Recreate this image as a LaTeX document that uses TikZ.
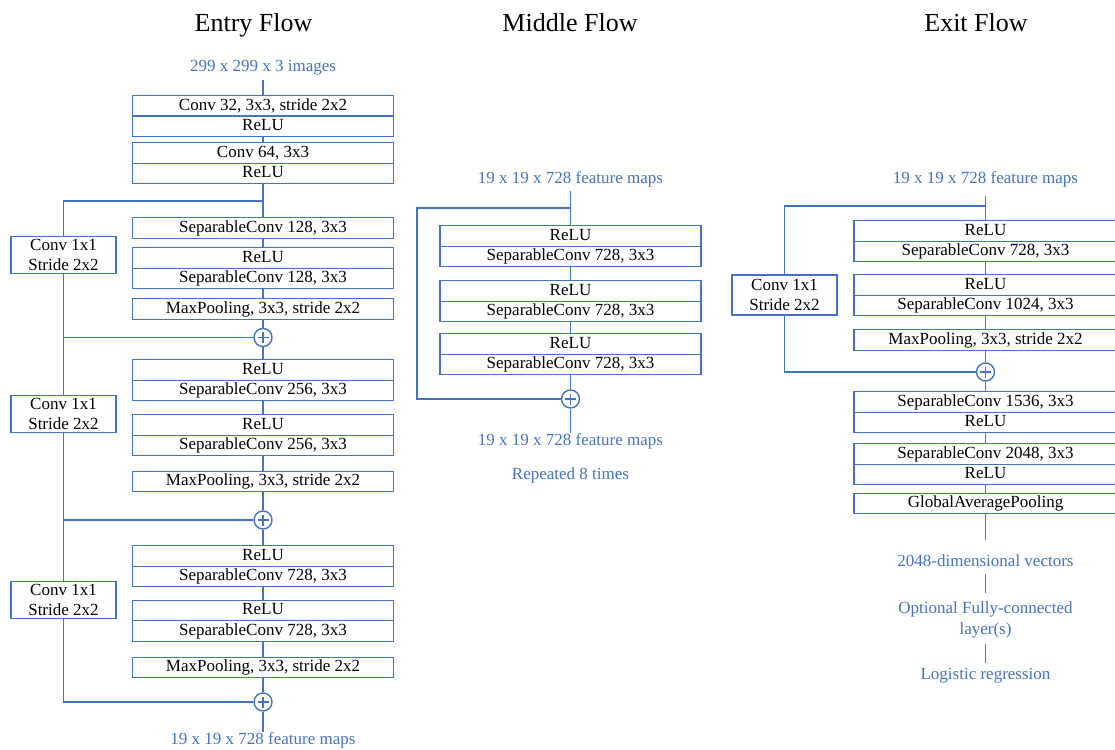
\documentclass[tikz,border=0pt]{standalone}
\usepackage{fontspec}
\setmainfont{Liberation Serif}
\definecolor{lb}{HTML}{4472C4}
\begin{document}
\begin{tikzpicture}[x=1pt,y=-1pt,
  every node/.style={font=\fontsize{17}{20.5}\selectfont},
  ln/.style={draw=lb, line width=1.4pt},
  title/.style={anchor=base, font=\fontsize{26}{30}\selectfont},
  lbl/.style={anchor=base, text=lb, inner sep=4pt, align=center},
  row/.style={draw=lb, line width=1.4pt, minimum width=261pt, minimum height=20.5pt, inner sep=0pt, text height=11.6pt, text depth=3.2pt, anchor=north},
  xrow/.style={row, minimum width=263pt},
  sc/.style={draw=lb, line width=1.4pt, minimum width=105pt, minimum height=37pt, inner sep=0pt, align=center},
  plus/.style={circle, draw=lb, line width=1.4pt, minimum size=18pt, inner sep=0pt, fill=white,
    path picture={\draw[lb, line width=1.8pt] ([xshift=-5.5pt]path picture bounding box.center) -- ([xshift=5.5pt]path picture bounding box.center) ([yshift=-5.5pt]path picture bounding box.center) -- ([yshift=5.5pt]path picture bounding box.center);}}
]
\useasboundingbox (0,0) rectangle (1115,749);

% titles
\node[title] (tEntry) at (253.5,31.5) {Entry Flow};
\node[title] (tMid) at (570,31.5) {Middle Flow};
\node[title] (tExit) at (976,31.5) {Exit Flow};

% ---------------- Entry flow ----------------
\node[lbl] (in) at (263,72) {299 x 299 x 3 images};
\node[row] (c32) at (263,95) {Conv 32, 3x3, stride 2x2};
\node[row] (r1) at (263,115.5) {ReLU};
\node[row] (c64) at (263,142) {Conv 64, 3x3};
\node[row] (r2) at (263,162.5) {ReLU};
\coordinate (b1) at (263,201);
\node[row] (s1) at (263,217) {SeparableConv 128, 3x3};
\node[row] (r3) at (263,247) {ReLU};
\node[row] (s2) at (263,267.5) {SeparableConv 128, 3x3};
\node[row] (mp1) at (263,298) {MaxPooling, 3x3, stride 2x2};
\node[plus] (p1) at (263,337.5) {};
\node[sc] (k1) at (63.5,255) {Conv 1x1\\Stride 2x2};

\node[row] (r4) at (263,359) {ReLU};
\node[row] (s3) at (263,379.5) {SeparableConv 256, 3x3};
\node[row] (r5) at (263,414) {ReLU};
\node[row] (s4) at (263,434.5) {SeparableConv 256, 3x3};
\node[row] (mp2) at (263,470.5) {MaxPooling, 3x3, stride 2x2};
\node[plus] (p2) at (263,520) {};
\node[sc] (k2) at (63.5,414) {Conv 1x1\\Stride 2x2};

\node[row] (r6) at (263,545) {ReLU};
\node[row] (s5) at (263,565.5) {SeparableConv 728, 3x3};
\node[row] (r7) at (263,599.5) {ReLU};
\node[row] (s6) at (263,620) {SeparableConv 728, 3x3};
\node[row] (mp3) at (263,656.5) {MaxPooling, 3x3, stride 2x2};
\node[plus] (p3) at (263,702) {};
\node[sc] (k3) at (63.5,600) {Conv 1x1\\Stride 2x2};
\node[lbl] (out) at (263,744.5) {19 x 19 x 728 feature maps};

\draw[ln] (in.south) -- (c32.north);
\draw[ln] (r1.south) -- (c64.north);
\draw[ln] (r2.south) -- (s1.north);
\draw[ln] (b1) -| (k1.north);
\draw[ln] (s1.south) -- (r3.north);
\draw[ln] (s2.south) -- (mp1.north);
\draw[ln] (mp1.south) -- (p1.north);
\draw[ln] (k1.south) |- (p1.west);
\draw[ln] (p1.south) -- (r4.north);
\draw[ln] (p1.west) -| (k2.north);
\draw[ln] (s3.south) -- (r5.north);
\draw[ln] (s4.south) -- (mp2.north);
\draw[ln] (mp2.south) -- (p2.north);
\draw[ln] (k2.south) |- (p2.west);
\draw[ln] (p2.south) -- (r6.north);
\draw[ln] (p2.west) -| (k3.north);
\draw[ln] (s5.south) -- (r7.north);
\draw[ln] (s6.south) -- (mp3.north);
\draw[ln] (mp3.south) -- (p3.north);
\draw[ln] (k3.south) |- (p3.west);
\draw[ln, shorten >=-4pt] (p3.south) -- (out.north);

% ---------------- Middle flow ----------------
\node[lbl] (min) at (570.5,183.5) {19 x 19 x 728 feature maps};
\node[row] (m1a) at (570.5,225) {ReLU};
\node[row] (m1b) at (570.5,245.5) {SeparableConv 728, 3x3};
\node[row] (m2a) at (570.5,280) {ReLU};
\node[row] (m2b) at (570.5,300.5) {SeparableConv 728, 3x3};
\node[row] (m3a) at (570.5,333) {ReLU};
\node[row] (m3b) at (570.5,353.5) {SeparableConv 728, 3x3};
\node[plus] (mp) at (570.5,399) {};
\node[lbl] (mout) at (570.5,445.5) {19 x 19 x 728 feature maps};
\node[lbl] (rep) at (570.5,479.5) {Repeated 8 times};
\coordinate (mb) at (570.5,208);
\coordinate (ml) at (417,208);

\draw[ln] (min.south) -- (m1a.north);
\draw[ln] (mb) -- (ml) |- (mp.west);
\draw[ln] (m1b.south) -- (m2a.north);
\draw[ln] (m2b.south) -- (m3a.north);
\draw[ln] (m3b.south) -- (mp.north);
\draw[ln, shorten >=-4pt] (mp.south) -- (mout.north);

% ---------------- Exit flow ----------------
\node[lbl] (ein) at (985.5,183.5) {19 x 19 x 728 feature maps};
\coordinate (eb) at (985.5,206);
\node[sc, minimum height=40pt] (k4) at (784.5,295) {Conv 1x1\\Stride 2x2};
\node[xrow] (x1a) at (985.5,220) {ReLU};
\node[xrow] (x1b) at (985.5,240.5) {SeparableConv 728, 3x3};
\node[xrow] (x2a) at (985.5,274) {ReLU};
\node[xrow] (x2b) at (985.5,294.5) {SeparableConv 1024, 3x3};
\node[xrow] (xmp) at (985.5,329) {MaxPooling, 3x3, stride 2x2};
\node[plus] (xp) at (985.5,372) {};
\node[xrow] (x3a) at (985.5,391) {SeparableConv 1536, 3x3};
\node[xrow] (x3b) at (985.5,411.5) {ReLU};
\node[xrow] (x4a) at (985.5,443) {SeparableConv 2048, 3x3};
\node[xrow] (x4b) at (985.5,463.5) {ReLU};
\node[xrow] (gap) at (985.5,492.5) {GlobalAveragePooling};
\node[lbl] (vec) at (985.5,566.5) {2048-dimensional vectors};
\node[text=lb, inner sep=4pt, align=center] (fc) at (985.5,620) {Optional Fully-connected\\layer(s)};
\node[lbl] (lr) at (985.5,679.5) {Logistic regression};

\draw[ln, shorten <=5pt] (ein.south) -- (x1a.north);
\draw[ln] (eb) -| (k4.north);
\draw[ln] (k4.south) |- (xp.west);
\draw[ln] (x1b.south) -- (x2a.north);
\draw[ln] (x2b.south) -- (xmp.north);
\draw[ln] (xmp.south) -- (xp.north);
\draw[ln] (xp.south) -- (x3a.north);
\draw[ln] (x3b.south) -- (x4a.north);
\draw[ln] (x4b.south) -- (gap.north);
\draw[ln, shorten >=11pt] (gap.south) -- (vec.north);
\draw[ln, shorten <=3pt, shorten >=5pt] (vec.south) -- (fc.north);
\draw[ln, shorten <=2pt, shorten >=1pt] (fc.south) -- (lr.north);
\end{tikzpicture}
\end{document}
